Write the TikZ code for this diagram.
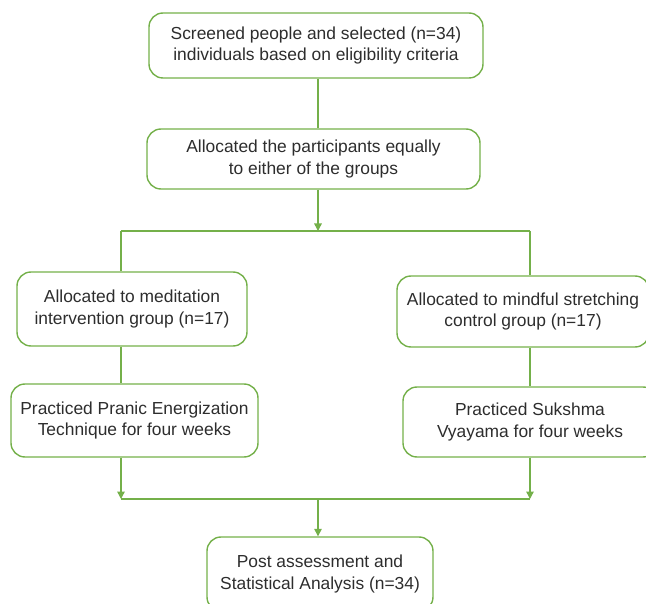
\documentclass[tikz,border=0pt]{standalone}
\usepackage{fontspec}
\setmainfont{Liberation Sans}
\usetikzlibrary{arrows.meta,calc}
\definecolor{lgreen}{RGB}{116,176,74}
\definecolor{txt}{RGB}{45,45,45}
\begin{document}
\begin{tikzpicture}[x=1pt,y=-1pt,
  flowbox/.style={draw=lgreen,line width=1.4pt,rounded corners=14pt,align=center,
    inner sep=0pt,text=txt,font=\fontsize{17.4}{21.5}\selectfont},
  conn/.style={draw=lgreen,line width=1.4pt},
  arr/.style={conn,-{Triangle[length=7.5pt,width=7.5pt]}}]
\useasboundingbox (0,0) rectangle (646,604);
\clip (0,0) rectangle (646,604);
\node[flowbox,minimum width=334pt,minimum height=65pt] (b1) at (316,45.5)
  {Screened people and selected (n=34)\\individuals based on eligibility criteria};
\node[flowbox,minimum width=333pt,minimum height=60pt] (b2) at (313.5,159)
  {Allocated the participants equally\\to either of the groups};
\node[flowbox,minimum width=230pt,minimum height=74pt] (b3) at (132,309)
  {Allocated to meditation\\intervention group (n=17)};
\node[flowbox,minimum width=247pt,minimum height=73pt] (b4) at (134.5,420.5)
  {Practiced Pranic Energization\\Technique for four weeks};
\node[flowbox,minimum width=252pt,minimum height=71pt] (b5) at (523,311.5)
  {Allocated to mindful stretching\\control group (n=17)};
\node[flowbox,minimum width=254pt,minimum height=70pt] (b6) at (530,422)
  {Practiced Sukshma\\Vyayama for four weeks};
\node[flowbox,minimum width=226pt,minimum height=74pt] (b7) at (320,574)
  {Post assessment and\\Statistical Analysis (n=34)};
\coordinate (sm) at (318,231);
\coordinate (sl) at (121,231);
\coordinate (sr) at (530,231);
\coordinate (jl) at (121,499);
\coordinate (jr) at (530,499);
\coordinate (jm) at (318,499);
\draw[conn] (b1.south -| sm) -- (b2.north -| sm);
\draw[arr] (b2.south -| sm) -- (sm);
\draw[conn] (sl) -- (sr);
\draw[conn] (sl) -- (b3.north -| sl);
\draw[conn] (sr) -- (b5.north -| sr);
\draw[conn] (b3.south -| sl) -- (b4.north -| sl);
\draw[conn] (b5.south -| sr) -- (b6.north -| sr);
\draw[arr] (b4.south -| jl) -- (jl);
\draw[arr] (b6.south -| jr) -- (jr);
\draw[conn] (jl) -- (jr);
\draw[arr] (jm) -- (b7.north -| jm);
\end{tikzpicture}
\end{document}
